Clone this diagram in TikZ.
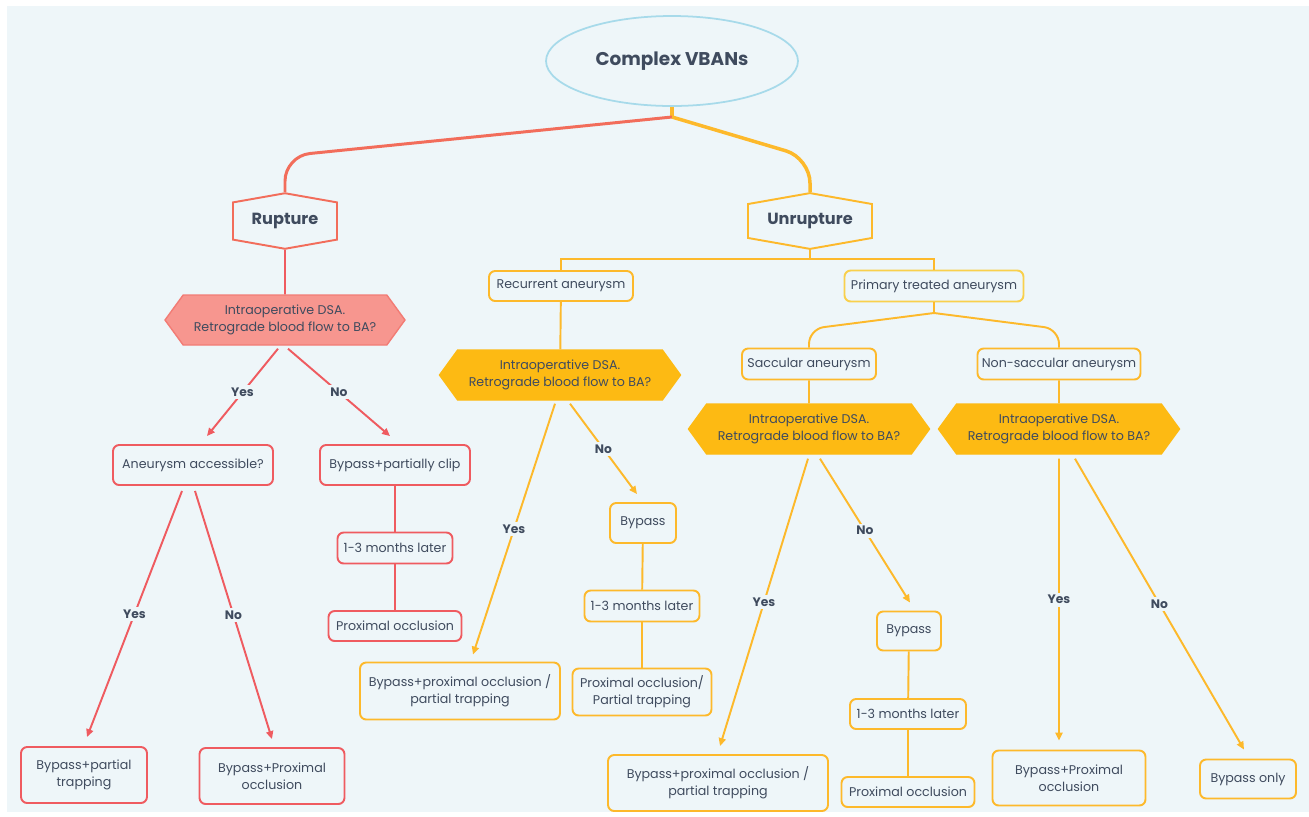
\documentclass[tikz,border=0pt]{standalone}
\usepackage{fontspec}
\setmainfont{Poppins}
\usetikzlibrary{shapes.geometric,shapes.symbols,arrows.meta}
\definecolor{bg}{HTML}{EEF6F9}
\definecolor{txt}{HTML}{3F4B5E}
\definecolor{topred}{HTML}{F26D5B}
\definecolor{boxred}{HTML}{EF5B60}
\definecolor{hexred}{HTML}{F7968F}
\definecolor{hexredline}{HTML}{F27C75}
\definecolor{orng}{HTML}{FDB92B}
\definecolor{hexor}{HTML}{FDBA13}
\definecolor{paleor}{HTML}{F9D04C}
\definecolor{skyline}{HTML}{A7DAEA}

\begin{document}
\begin{tikzpicture}[x=0.02cm,y=-0.02cm]
\tikzstyle{every node}=[text=txt,font=\fontsize{7.2}{9.5}\selectfont,inner sep=0pt,align=center]
\tikzstyle{redbox}=[draw=boxred,line width=1.1pt,rounded corners=3.5pt,fill=bg]
\tikzstyle{orbox}=[draw=orng,line width=1.1pt,rounded corners=3.5pt,fill=bg]
\tikzstyle{redhex}=[signal,signal to=west and east,signal pointer angle=108,fill=hexred,draw=hexredline,line width=0.8pt,minimum width=4.8cm,minimum height=1cm]
\tikzstyle{orhex}=[signal,signal to=west and east,signal pointer angle=108,fill=hexor,draw=hexor,line width=0.8pt,minimum width=4.82cm,minimum height=1cm]
\tikzstyle{casehex}=[signal,signal to=north and south,signal pointer angle=160,line width=1.1pt,fill=bg,minimum height=0.98cm,font=\bfseries\fontsize{9.2}{11}\selectfont]
\tikzstyle{redline}=[draw=boxred,line width=1.1pt]
\tikzstyle{orline}=[draw=orng,line width=1.1pt]
\tikzstyle{redarrow}=[redline,-{Triangle[length=4.5pt,width=4pt]}]
\tikzstyle{orarrow}=[orline,-{Triangle[length=4.5pt,width=4pt]}]
\tikzstyle{yn}=[fill=bg,inner sep=1.5pt,font=\bfseries\fontsize{7}{8}\selectfont]

\useasboundingbox (0,0) rectangle (1309,816);
\fill[bg] (7,6) rectangle (1309,812);

\node[ellipse,draw=skyline,line width=1pt,fill=bg,minimum width=5.04cm,minimum height=1.8cm,font=\bfseries\fontsize{10.5}{12}\selectfont] (vb) at (672,61) {Complex VBANs};
\node[casehex,draw=topred,minimum width=2.08cm] (rup) at (285,221) {Rupture};
\node[casehex,draw=orng,minimum width=2.48cm] (unr) at (810,221) {Unrupture};

\coordinate (fork) at (672,117);
\draw[orng,line width=2pt] (vb.south) -- (fork);
\draw[topred,line width=1.7pt,rounded corners=0.5cm] (fork) -- (285,156) -- (rup.north);
\draw[orng,line width=2pt,rounded corners=0.5cm] (fork) -- (810,158) -- (unr.north);

\node[redhex] (dsaR) at (285,320) {Intraoperative DSA.\\Retrograde blood flow to BA?};
\node[redbox,minimum width=3.2cm,minimum height=0.8cm] (acc) at (193,465) {Aneurysm accessible?};
\node[redbox,minimum width=3cm,minimum height=0.8cm] (bpc) at (395,465) {Bypass+partially clip};
\node[redbox,minimum width=2.3cm,minimum height=0.62cm] (lat1) at (395,548) {1-3 months later};
\node[redbox,minimum width=2.66cm,minimum height=0.6cm] (pox1) at (395,626) {Proximal occlusion};
\node[redbox,minimum width=2.52cm,minimum height=1.12cm] (bpt) at (84,775) {Bypass+partial\\trapping};
\node[redbox,minimum width=2.9cm,minimum height=1.12cm] (bpo) at (272,776) {Bypass+Proximal\\occlusion};

\draw[redline] (rup) -- (dsaR);
\draw[redarrow] ([xshift=-0.14cm,yshift=-0.06cm]dsaR.south) -- node[yn]{Yes} ([xshift=0.28cm,yshift=0.16cm]acc.north);
\draw[redarrow] ([xshift=0.06cm,yshift=-0.06cm]dsaR.south) -- node[yn]{No} ([xshift=-0.1cm,yshift=0.16cm]bpc.north);
\draw[redline] (bpc) -- (lat1);
\draw[redline] (lat1) -- (pox1);
\draw[redarrow] ([xshift=-0.22cm,yshift=-0.1cm]acc.south) -- node[yn]{Yes} ([xshift=0.06cm,yshift=0.18cm]bpt.north);
\draw[redarrow] ([xshift=0.04cm,yshift=-0.1cm]acc.south) -- node[yn]{No} ([yshift=0.16cm]bpo.north);

\node[orbox,minimum width=2.88cm,minimum height=0.6cm] (rec) at (561,286) {Recurrent aneurysm};
\node[orbox,draw=paleor,minimum width=3.58cm,minimum height=0.62cm] (pri) at (934,286) {Primary treated aneurysm};
\coordinate (j1) at (810,259);
\draw[orline] (unr.south) -- (j1) -| (rec.north);
\draw[orline] (j1) -| (pri.north);

\node[orhex] (dsa2) at (560,375) {Intraoperative DSA.\\Retrograde blood flow to BA?};
\node[orbox,minimum width=1.32cm,minimum height=0.8cm] (byp1) at (643,523) {Bypass};
\node[orbox,minimum width=2.3cm,minimum height=0.62cm] (lat2) at (642,606) {1-3 months later};
\node[orbox,minimum width=2.78cm,minimum height=0.94cm] (pop1) at (642,692) {Proximal occlusion/\\Partial trapping};
\node[orbox,minimum width=4cm,minimum height=1.14cm] (bpp1) at (460,691) {Bypass+proximal occlusion /\\partial trapping};

\draw[orline] (rec) -- (dsa2);
\draw[orarrow] ([xshift=-0.1cm,yshift=-0.06cm]dsa2.south) -- node[yn]{Yes} ([xshift=0.26cm,yshift=0.14cm]bpp1.north);
\draw[orarrow] ([xshift=0.2cm,yshift=-0.06cm]dsa2.south) -- node[yn]{No} ([xshift=-0.12cm,yshift=0.16cm]byp1.north);
\draw[orline] (byp1) -- (lat2);
\draw[orline] (lat2) -- (pop1);

\node[orbox,minimum width=2.68cm,minimum height=0.62cm] (sac) at (809,364) {Saccular aneurysm};
\node[orbox,minimum width=3.26cm,minimum height=0.62cm] (nsac) at (1059,364) {Non-saccular aneurysm};
\coordinate (j2) at (934,313);
\draw[orline] (pri.south) -- (j2);
\draw[orline,rounded corners=0.3cm] (j2) -- (809,329) -- (sac.north);
\draw[orline,rounded corners=0.3cm] (j2) -- (1059,329) -- (nsac.north);

\node[orhex] (dsa3) at (809,429) {Intraoperative DSA.\\Retrograde blood flow to BA?};
\node[orhex] (dsa4) at (1059,429) {Intraoperative DSA.\\Retrograde blood flow to BA?};
\draw[orline] (sac) -- (dsa3);
\draw[orline] (nsac) -- (dsa4);

\node[orbox,minimum width=1.28cm,minimum height=0.78cm] (byp2) at (909,631) {Bypass};
\node[orbox,minimum width=2.32cm,minimum height=0.6cm] (lat3) at (908,714) {1-3 months later};
\node[orbox,minimum width=2.66cm,minimum height=0.6cm] (pox2) at (908,792) {Proximal occlusion};
\node[orbox,minimum width=4.4cm,minimum height=1.12cm] (bpp2) at (718,783) {Bypass+proximal occlusion /\\partial trapping};
\node[orbox,minimum width=3.06cm,minimum height=1.1cm] (bpo2) at (1069,778) {Bypass+Proximal\\occlusion};
\node[orbox,minimum width=1.92cm,minimum height=0.78cm] (bonly) at (1248,779) {Bypass only};

\draw[orarrow] ([xshift=-0.02cm,yshift=-0.08cm]dsa3.south) -- node[yn]{Yes} ([xshift=0.04cm,yshift=0.16cm]bpp2.north);
\draw[orarrow] ([xshift=0.22cm,yshift=-0.08cm]dsa3.south) -- node[yn]{No} ([xshift=0.02cm,yshift=0.16cm]byp2.north);
\draw[orline] (byp2) -- (lat3);
\draw[orline] (lat3) -- (pox2);
\draw[orarrow] ([yshift=-0.08cm]dsa4.south) -- node[yn]{Yes} ([xshift=-0.2cm,yshift=0.18cm]bpo2.north);
\draw[orarrow] ([xshift=0.32cm,yshift=-0.08cm]dsa4.south) -- node[yn]{No} ([xshift=-0.08cm,yshift=0.18cm]bonly.north);
\end{tikzpicture}
\end{document}
